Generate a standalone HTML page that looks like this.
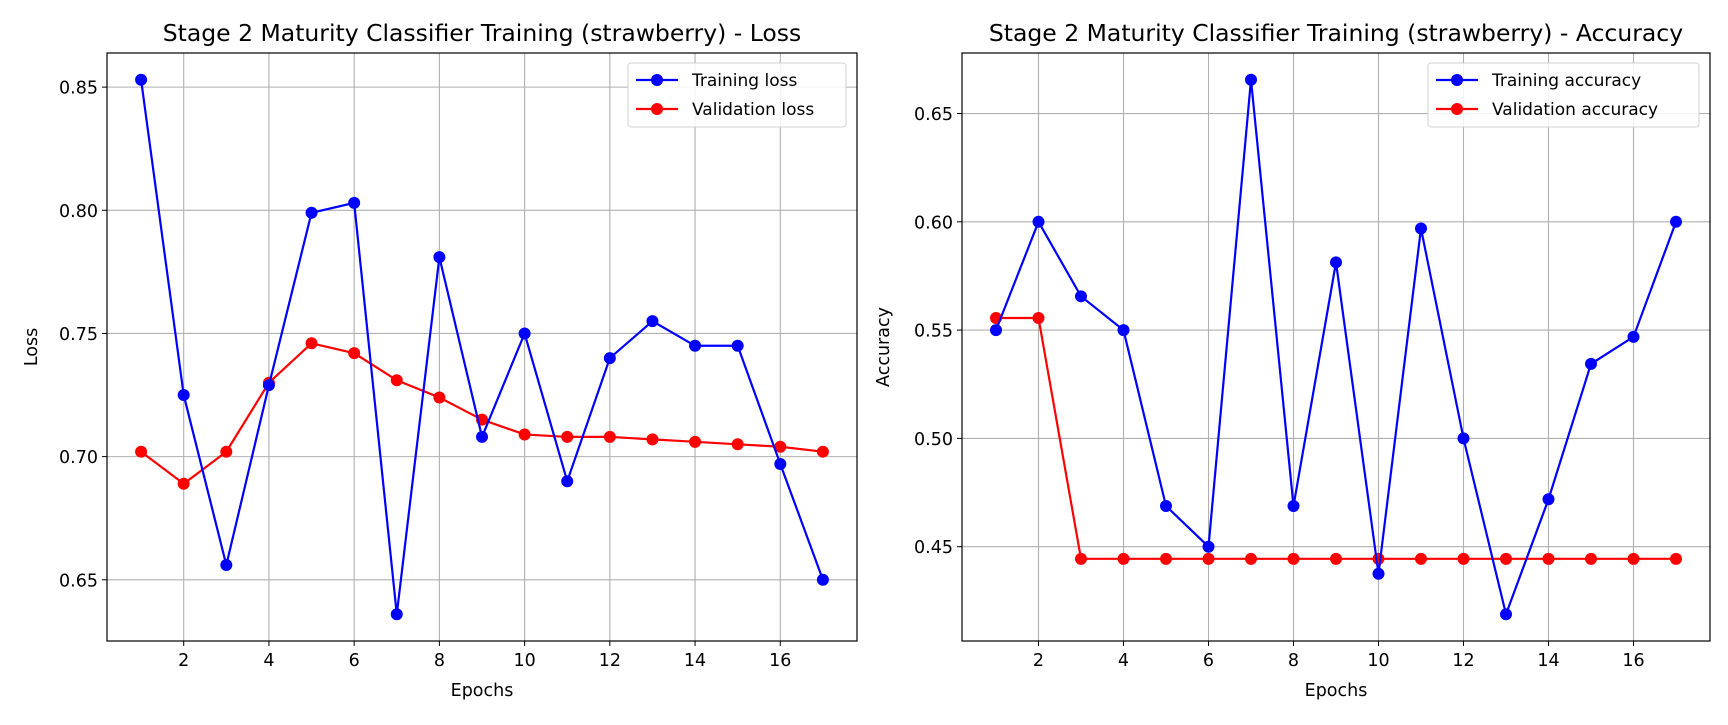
<!DOCTYPE html>
<html><head><meta charset="utf-8"><style>
body{margin:0;background:#fff}
svg text{font-family:"DejaVu Sans","Liberation Sans",sans-serif;fill:#000}
</style></head><body>
<svg id="c" width="1728" height="720" viewBox="0 0 1728 720"></svg>
<script>
const epochs=[1,2,3,4,5,6,7,8,9,10,11,12,13,14,15,16,17];
const trainLoss=[0.853,0.725,0.656,0.729,0.799,0.803,0.636,0.781,0.708,0.750,0.690,0.740,0.755,0.745,0.745,0.697,0.650];
const valLoss=[0.702,0.689,0.702,0.730,0.746,0.742,0.731,0.724,0.715,0.709,0.708,0.708,0.707,0.706,0.705,0.704,0.702];
const trainAcc=[0.55,0.60,0.5656,0.55,0.4688,0.45,0.6656,0.4688,0.5813,0.4375,0.5969,0.50,0.4188,0.4719,0.5344,0.5469,0.60];
const valAcc=[0.5556,0.5556,0.4444,0.4444,0.4444,0.4444,0.4444,0.4444,0.4444,0.4444,0.4444,0.4444,0.4444,0.4444,0.4444,0.4444,0.4444];
const xTicks=[2,4,6,8,10,12,14,16];
const lossTicks=[0.65,0.70,0.75,0.80,0.85];
const accTicks=[0.45,0.50,0.55,0.60,0.65];
const NS="http://www.w3.org/2000/svg";
const svg=document.getElementById('c');
function mk(t,a,p){const e=document.createElementNS(NS,t);for(const k in a)e.setAttribute(k,a[k]);(p||svg).appendChild(e);return e;}
function panel(o){
  const g=mk('g',{});
  
  
  const xmin=0.2,xmax=17.8;
  const lo=Math.min(...o.s1,...o.s2),hi=Math.max(...o.s1,...o.s2),m=(hi-lo)*0.05;
  const ymin=lo-m,ymax=hi+m;
  const X=v=>o.L+(v-xmin)/(xmax-xmin)*(o.R-o.L);
  const Y=v=>o.B-(v-ymin)/(ymax-ymin)*(o.B-o.T);
  xTicks.forEach(t=>{
    mk('line',{x1:X(t),x2:X(t),y1:o.T,y2:o.B,stroke:'#b0b0b0','stroke-width':1.1},g);
    mk('line',{x1:X(t),x2:X(t),y1:o.B,y2:o.B+5,stroke:'#000','stroke-width':1},g);
    const tx=mk('text',{x:X(t),y:o.B+25,'font-size':17.5,'text-anchor':'middle'},g);tx.textContent=t;
    
    
  });
  o.ticks.forEach(t=>{
    mk('line',{x1:o.L,x2:o.R,y1:Y(t),y2:Y(t),stroke:'#b0b0b0','stroke-width':1.1},g);
    mk('line',{x1:o.L-5,x2:o.L,y1:Y(t),y2:Y(t),stroke:'#000','stroke-width':1},g);
    const tx=mk('text',{x:o.L-9,y:Y(t)+6.5,'font-size':17.5,'text-anchor':'end'},g);tx.textContent=t.toFixed(2);
    
    
  });
  [[o.s2,'#ff0000',o.n2],[o.s1,'#0000ff',o.n1]].forEach(([s,c,n])=>{
    const pl=mk('polyline',{points:s.map((v,i)=>X(epochs[i])+','+Y(v)).join(' '),fill:'none',stroke:c,'stroke-width':2.2},g);
    
    
    s.forEach((v,i)=>{const ci=mk('circle',{cx:X(epochs[i]),cy:Y(v),r:6,fill:c},g);
      
      });
  });
  mk('rect',{x:o.L,y:o.T,width:o.R-o.L,height:o.B-o.T,fill:'none',stroke:'#000','stroke-width':1.2},g);
  const ti=mk('text',{x:(o.L+o.R)/2,y:41,'font-size':23.5,'text-anchor':'middle'},g);ti.textContent=o.title;
  
  
  const xl=mk('text',{x:(o.L+o.R)/2,y:696,'font-size':17.5,'text-anchor':'middle'},g);xl.textContent='Epochs';
  
  
  const yl=mk('text',{x:0,y:0,'font-size':17.5,'text-anchor':'middle',transform:`translate(${o.yl},${(o.T+o.B)/2}) rotate(-90)`},g);yl.textContent=o.ylab;
  
  
  const lg=mk('g',{},g);
  
  
  mk('rect',{x:o.lx,y:63,width:o.lw,height:64,rx:3,fill:'#fff','fill-opacity':0.85,stroke:'#d0d0d0'},lg);
  [[o.n1,'#0000ff',o.lab1,80],[o.n2,'#ff0000',o.lab2,109]].forEach(([n,c,l,y])=>{
    mk('line',{x1:o.lx+8,x2:o.lx+50,y1:y+0,y2:y,stroke:c,'stroke-width':2.2},lg);
    mk('circle',{cx:o.lx+29,cy:y,r:6,fill:c},lg);
    const t=mk('text',{x:o.lx+64,y:y+6,'font-size':17},lg);t.textContent=l;
    
    
  });
}
panel({name:'loss-chart',L:107,R:857,T:53,B:641,s1:trainLoss,s2:valLoss,ticks:lossTicks,title:'Stage 2 Maturity Classifier Training (strawberry) - Loss',ylab:'Loss',yl:37,n1:'training-loss',n2:'validation-loss',lab1:'Training loss',lab2:'Validation loss',lx:628,lw:218});
panel({name:'accuracy-chart',L:962,R:1710,T:53,B:641,s1:trainAcc,s2:valAcc,ticks:accTicks,title:'Stage 2 Maturity Classifier Training (strawberry) - Accuracy',ylab:'Accuracy',yl:889,n1:'training-accuracy',n2:'validation-accuracy',lab1:'Training accuracy',lab2:'Validation accuracy',lx:1428,lw:271});
</script>
</body></html>
